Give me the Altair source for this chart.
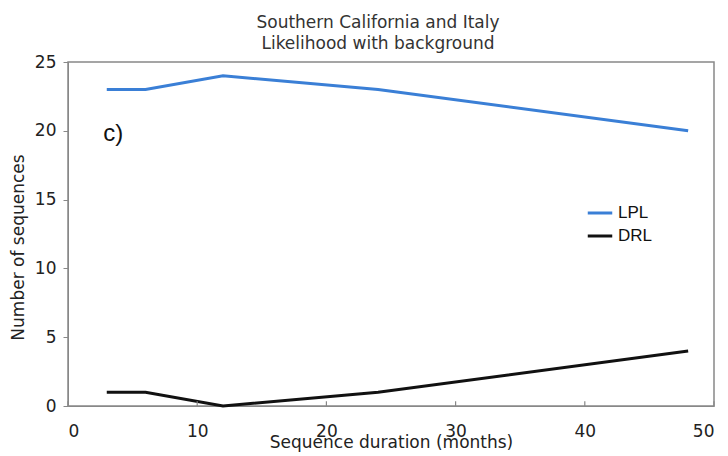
import altair as alt
import pandas as pd

# values
months = [3, 6, 12, 24, 48]
lpl = [23, 23, 24, 23, 20]
drl = [1, 1, 0, 1, 4]
series_names = ["LPL", "DRL"]
series_colors = ["#3a7fd6", "#111111"]
x_ticks = [0, 10, 20, 30, 40, 50]
y_ticks = [0, 5, 10, 15, 20, 25]

df = pd.DataFrame({
    "months": months * 2,
    "count": lpl + drl,
    "series": ["LPL"] * len(months) + ["DRL"] * len(months),
})

panel_label = pd.DataFrame({"x": [3.5], "y": [19.8], "text": ["c)"]})
tick_df = pd.DataFrame({"x": x_ticks, "y0": [0] * len(x_ticks), "y1": [0.35] * len(x_ticks)})

x_scale = alt.Scale(domain=[0, 50], nice=False, zero=False)
y_scale = alt.Scale(domain=[0, 25], nice=False)

lines = alt.Chart(df).mark_line(strokeWidth=3).encode(
    x=alt.X("months:Q", scale=x_scale,
            axis=alt.Axis(title="Sequence duration (months)", values=x_ticks,
                          grid=False, ticks=False, labelPadding=17,
                          titleY=36, titleBaseline="middle")),
    y=alt.Y("count:Q", scale=y_scale,
            axis=alt.Axis(title="Number of sequences", values=y_ticks,
                          grid=False, tickSize=5, labelPadding=7,
                          titleX=-50, titleY=185, titleBaseline="middle")),
    color=alt.Color("series:N",
                    scale=alt.Scale(domain=series_names, range=series_colors),
                    legend=alt.Legend(title=None, orient="none", legendX=518, legendY=137,
                                      symbolType="stroke", symbolSize=600, symbolStrokeWidth=3,
                                      labelFont="Liberation Sans", labelFontSize=17,
                                      labelColor="#111", rowPadding=1)),
    detail="series:N",
)

# x ticks point into the plot in the original
inner_ticks = alt.Chart(tick_df).mark_rule(color="#888", strokeWidth=1.2).encode(
    x=alt.X("x:Q", scale=x_scale),
    y=alt.Y("y0:Q", scale=y_scale),
    y2="y1:Q",
)

label = alt.Chart(panel_label).mark_text(
    font="Liberation Sans", fontSize=24, color="#111"
).encode(x=alt.X("x:Q", scale=x_scale), y=alt.Y("y:Q", scale=y_scale), text="text:N")

chart = (lines + inner_ticks + label).properties(
    width=646,
    height=344,
    autosize=alt.AutoSizeParams(type="none"),
    padding={"left": 60, "top": 54, "right": 6, "bottom": 50},
    title=alt.TitleParams(
        ["Southern California and Italy", "Likelihood with background"],
        anchor="middle", font="DejaVu Sans", fontSize=17, fontWeight="normal",
        color="#333", lineHeight=21, offset=0, dx=-13,
    ),
).configure_axis(
    labelFont="DejaVu Sans", labelFontSize=17, labelColor="#222",
    titleFont="DejaVu Sans", titleFontSize=17, titleFontWeight="normal", titleColor="#222",
    domainColor="#888", tickColor="#888",
).configure_view(
    stroke="#888", strokeWidth=1.5
)

chart.save("out.html", embed_options={"renderer": "svg", "actions": False})
